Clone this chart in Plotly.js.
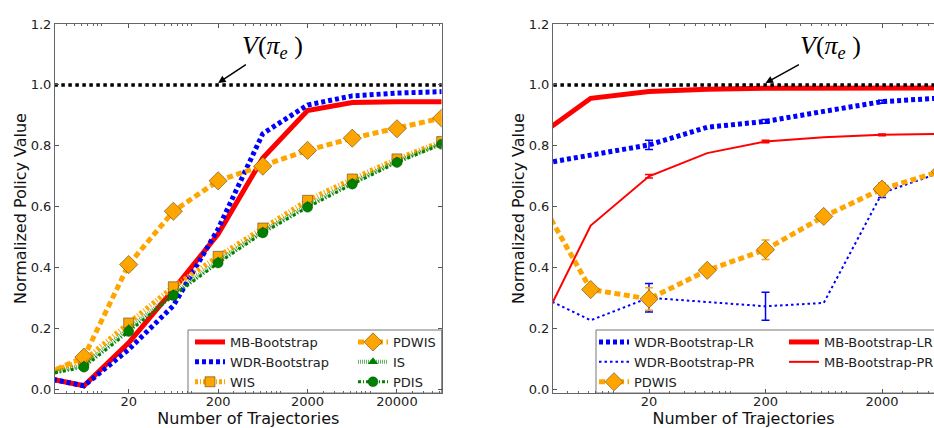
<!DOCTYPE html>
<html><head><meta charset="utf-8">
<script src="https://cdn.plot.ly/plotly-3.0.1.min.js"></script>
<style>html,body{margin:0;padding:0;background:#fff}#chart{width:934px;height:428px}</style>
</head><body><div id="chart"></div>
<script>
// ---------- data (left panel) ----------
const trajLeft     = [2, 6.32, 20, 63.2, 200, 632, 2000, 6325, 20000, 63246];
const mbBootstrap  = [0.042, 0.012, 0.153, 0.328, 0.510, 0.760, 0.916, 0.942, 0.945, 0.945];
const wdrBootstrap = [0.042, 0.012, 0.131, 0.275, 0.527, 0.840, 0.934, 0.964, 0.973, 0.978];
const wis          = [0.046, 0.095, 0.218, 0.337, 0.437, 0.530, 0.621, 0.691, 0.757, 0.814];
const pdwis        = [0.041, 0.106, 0.410, 0.585, 0.685, 0.733, 0.785, 0.825, 0.856, 0.891];
const isVals       = [0.044, 0.080, 0.200, 0.315, 0.422, 0.520, 0.605, 0.680, 0.750, 0.808];
const pdis         = [0.044, 0.073, 0.190, 0.308, 0.415, 0.514, 0.598, 0.674, 0.745, 0.805];

// ---------- data (right panel) ----------
const trajRight     = [2, 6.32, 20, 63.2, 200, 632, 2000, 6325];
const wdrLR         = [0.736, 0.768, 0.803, 0.861, 0.880, 0.913, 0.945, 0.957];
const wdrLRErr      = [NaN, NaN, 0.015, NaN, 0.006, NaN, 0.005, NaN];
const wdrPR         = [0.319, 0.227, 0.301, 0.286, 0.273, 0.284, 0.645, 0.712];
const wdrPRErr      = [NaN, NaN, 0.047, NaN, 0.046, NaN, 0.015, NaN];
const mbLR          = [0.818, 0.956, 0.978, 0.986, 0.989, 0.990, 0.990, 0.990];
const mbPR          = [0.152, 0.538, 0.700, 0.776, 0.814, 0.828, 0.836, 0.839];
const mbPRErr       = [NaN, NaN, 0.006, NaN, 0.004, NaN, 0.003, NaN];
const pdwisRight    = [0.667, 0.328, 0.297, 0.391, 0.459, 0.568, 0.658, 0.716];
const pdwisRightErr = [NaN, NaN, 0.037, NaN, 0.032, NaN, 0.020, NaN];

const vTrue = 1.0;
const xTickVals = [20, 200, 2000, 20000];
const xTickText = ['20', '200', '2000', '20000'];
const yTickVals = [0, 0.2, 0.4, 0.6, 0.8, 1.0, 1.2];

// ---------- styles ----------
const RED = '#ff0000', BLUE = '#0000ff', ORANGE = '#ffa500', GREEN = '#008000';
const edge = {color: 'rgba(90,70,30,0.75)', width: 0.8};

function err(arr, color) {
  return {type: 'data', array: arr, visible: true, color: color, thickness: 1.5, width: 4};
}

const traces = [
  // left panel
  {x: trajLeft, y: mbBootstrap, name: 'MB-Bootstrap', mode: 'lines', xaxis: 'x', yaxis: 'y',
   line: {color: RED, width: 5}, legend: 'legend', legendgroup: 'L1'},
  {x: trajLeft, y: wdrBootstrap, name: 'WDR-Bootstrap', mode: 'lines', xaxis: 'x', yaxis: 'y',
   line: {color: BLUE, width: 5, dash: '4px,3px'}, legend: 'legend', legendgroup: 'L1'},
  {x: trajLeft, y: wis, name: 'WIS', mode: 'lines+markers', xaxis: 'x', yaxis: 'y',
   line: {color: ORANGE, width: 5, dash: '3px,2px,1px,2px'},
   marker: {symbol: 'square', size: 10, color: ORANGE, line: edge}, legend: 'legend', legendgroup: 'L1'},
  {x: trajLeft, y: pdwis, name: 'PDWIS', mode: 'lines+markers', xaxis: 'x', yaxis: 'y',
   line: {color: ORANGE, width: 5, dash: '6px,3.5px'},
   marker: {symbol: 'diamond', size: 14, color: ORANGE, line: edge}, legend: 'legend', legendgroup: 'L2'},
  {x: trajLeft, y: isVals, name: 'IS', mode: 'lines+markers', xaxis: 'x', yaxis: 'y',
   line: {color: 'rgba(0,128,0,0.6)', width: 4, dash: '1px,1px'},
   marker: {symbol: 'triangle-up', size: 9, color: GREEN}, legend: 'legend', legendgroup: 'L2'},
  {x: trajLeft, y: pdis, name: 'PDIS', mode: 'lines+markers', xaxis: 'x', yaxis: 'y',
   line: {color: GREEN, width: 3, dash: '3px,2px,1px,2px'},
   marker: {symbol: 'circle', size: 10, color: GREEN, line: {color: 'rgba(0,60,0,0.6)', width: 0.6}},
   legend: 'legend', legendgroup: 'L2'},
  {x: [1, 100000], y: [vTrue, vTrue], mode: 'lines', xaxis: 'x', yaxis: 'y', showlegend: false,
   line: {color: '#000', width: 3.5, dash: '3.5px,3.5px'}, hoverinfo: 'skip'},

  // right panel
  {x: trajRight, y: wdrLR, name: 'WDR-Bootstrap-LR', mode: 'lines', xaxis: 'x2', yaxis: 'y2',
   line: {color: BLUE, width: 5, dash: '4px,3px'}, error_y: err(wdrLRErr, BLUE),
   legend: 'legend2', legendgroup: 'R1'},
  {x: trajRight, y: wdrPR, name: 'WDR-Bootstrap-PR', mode: 'lines', xaxis: 'x2', yaxis: 'y2',
   line: {color: BLUE, width: 2, dash: '2.5px,3px'}, error_y: err(wdrPRErr, BLUE),
   legend: 'legend2', legendgroup: 'R1'},
  {x: trajRight, y: pdwisRight, name: 'PDWIS', mode: 'lines+markers', xaxis: 'x2', yaxis: 'y2',
   line: {color: ORANGE, width: 5, dash: '6px,3.5px'},
   marker: {symbol: 'diamond', size: 14, color: ORANGE, line: edge}, error_y: err(pdwisRightErr, ORANGE),
   legend: 'legend2', legendgroup: 'R1'},
  {x: trajRight, y: mbLR, name: 'MB-Bootstrap-LR', mode: 'lines', xaxis: 'x2', yaxis: 'y2',
   line: {color: RED, width: 5}, legend: 'legend2', legendgroup: 'R2'},
  {x: trajRight, y: mbPR, name: 'MB-Bootstrap-PR', mode: 'lines', xaxis: 'x2', yaxis: 'y2',
   line: {color: RED, width: 2}, error_y: err(mbPRErr, RED), legend: 'legend2', legendgroup: 'R2'},
  {x: [1, 100000], y: [vTrue, vTrue], mode: 'lines', xaxis: 'x2', yaxis: 'y2', showlegend: false,
   line: {color: '#000', width: 3.5, dash: '3.5px,3.5px'}, hoverinfo: 'skip'}
];

const FONT = 'DejaVu Sans, Verdana, sans-serif';
const tickFont = {family: FONT, size: 13, color: '#222'};
const titleFont = {family: FONT, size: 16, color: '#111'};

function minorVals(lo, hi) {
  const v = [];
  for (let e = 0; e <= 5; e++) for (let m = 1; m <= 9; m++) {
    const t = m * Math.pow(10, e);
    if (t >= lo && t <= hi) v.push(t);
  }
  return v;
}

function xAxis(domain, range, anchor) {
  return {
    type: 'log', domain: domain, range: range, anchor: anchor,
    tickmode: 'array', tickvals: xTickVals, ticktext: xTickText,
    ticks: 'inside', ticklen: 4, tickcolor: '#555', tickfont: tickFont, ticklabelstandoff: -4,
    showline: true, linecolor: '#666', linewidth: 1, mirror: 'ticks',
    showgrid: false, zeroline: false,
    minor: {tickmode: 'array', tickvals: minorVals(1, 100000), ticks: 'inside', ticklen: 2, tickcolor: '#666', showgrid: false},
    title: {text: 'Number of Trajectories', font: titleFont, standoff: 2}
  };
}
function yAxis(anchor, mirror) {
  return {
    range: [-0.0118, 1.2], domain: [0, 1], anchor: anchor,
    tickmode: 'array', tickvals: yTickVals, tickformat: '.1f',
    ticks: 'inside', ticklen: 4, tickcolor: '#555', tickfont: tickFont,
    showline: true, linecolor: '#666', linewidth: 1, mirror: mirror,
    showgrid: false, zeroline: false,
    title: {text: 'Normalized Policy Value', font: titleFont, standoff: 0}
  };
}

const annFont = {family: 'Liberation Serif, DejaVu Serif, serif', size: 26, color: '#000'};
const vText = '<i>V</i>(<i>π</i><sub><i>e</i></sub> )';

const legendBase = {
  orientation: 'h', traceorder: 'grouped', yanchor: 'top', xanchor: 'left', y: (393 - 327) / 369,
  bgcolor: 'rgba(0,0,0,0)', borderwidth: 0,
  font: {family: FONT, size: 13, color: '#222'}, itemwidth: 30, tracegroupgap: 0
};

const frame = {color: '#777', width: 1};

const layout = {
  width: 934, height: 428,
  margin: {l: 0, r: 0, t: 24, b: 35, autoexpand: false},
  paper_bgcolor: '#fff', plot_bgcolor: '#fff',
  showlegend: true,
  xaxis: xAxis([55 / 934, 441.7 / 934], [Math.log10(3), Math.log10(63246)], 'y'),
  yaxis: yAxis('x', 'ticks'),
  xaxis2: xAxis([553 / 934, 1], [Math.log10(3), 3.747], 'y2'),
  yaxis2: yAxis('x2', false),
  legend: Object.assign({}, legendBase, {x: 190 / 934, entrywidth: 118}),
  legend2: Object.assign({}, legendBase, {x: 594 / 934, entrywidth: 145}),
  shapes: [
    {type: 'rect', xref: 'paper', yref: 'paper', x0: 188 / 934, x1: 441.7 / 934, y0: 0, y1: 63 / 369,
     line: frame, fillcolor: '#fff', layer: 'below'},
    {type: 'rect', xref: 'paper', yref: 'paper', x0: 596 / 934, x1: 1.02, y0: 0, y1: 63 / 369,
     line: frame, fillcolor: '#fff', layer: 'below'}
  ],
  annotations: [
    {xref: 'x', yref: 'y', x: Math.log10(200), y: 1.006, ax: 54, ay: -36, text: vText,
     showarrow: true, arrowhead: 2, arrowsize: 1, arrowwidth: 1.5, arrowcolor: '#000', font: annFont},
    {xref: 'x2', yref: 'y2', x: Math.log10(200), y: 1.006, ax: 65, ay: -36, text: vText,
     showarrow: true, arrowhead: 2, arrowsize: 1, arrowwidth: 1.5, arrowcolor: '#000', font: annFont}
  ]
};

Plotly.newPlot('chart', traces, layout, {displayModeBar: false, staticPlot: true});
</script>
</body></html>
